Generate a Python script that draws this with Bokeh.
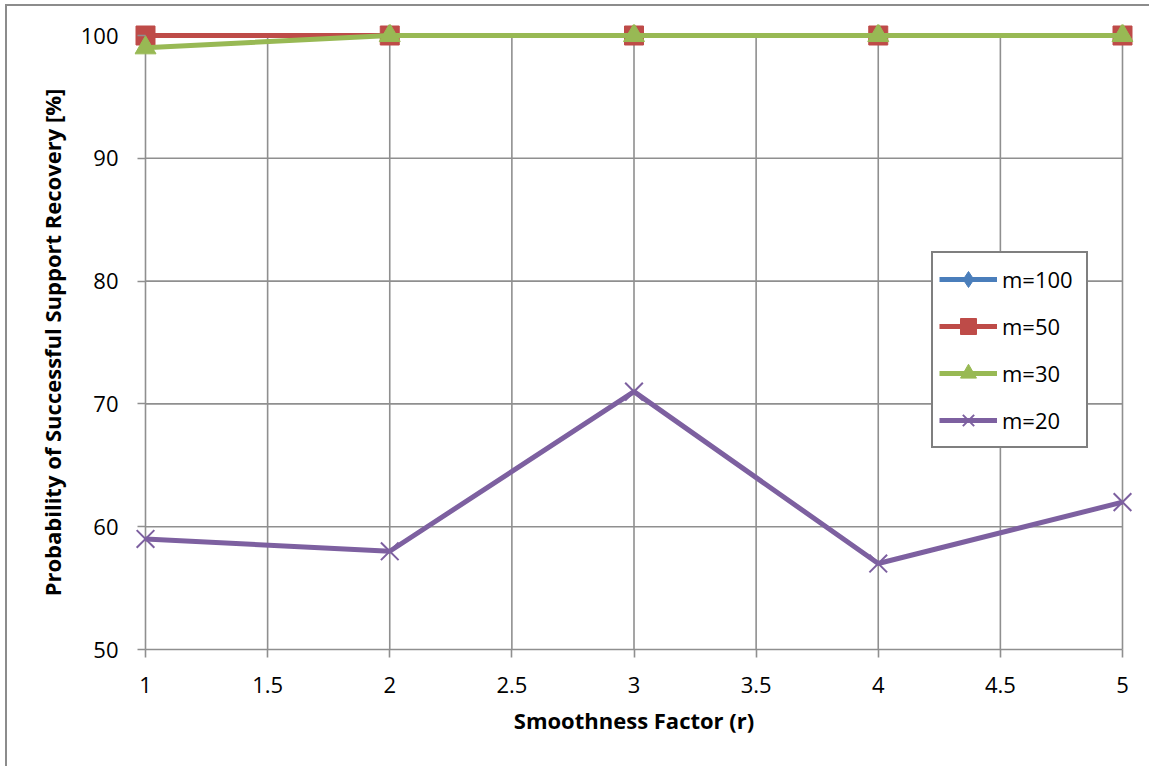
from bokeh.plotting import figure
from bokeh.models import Range1d, FixedTicker, Legend
from bokeh.embed import file_html
from bokeh.resources import INLINE

# data
r_values = [1, 2, 3, 4, 5]
m100 = [100, 100, 100, 100, 100]
m50 = [100, 100, 100, 100, 100]
m30 = [99, 100, 100, 100, 100]
m20 = [59, 58, 71, 57, 62]
x_ticks = [1, 1.5, 2, 2.5, 3, 3.5, 4, 4.5, 5]
y_ticks = [50, 60, 70, 80, 90, 100]

FONT = "Open Sans"
GRID = "#8f8f8f"

# layout (pixels)
PLOT_W, PLOT_H = 977, 614      # size of the data area 1..5 x 50..100
PAD = 11                       # room so edge markers are not clipped
x_lo, x_hi = min(x_ticks), max(x_ticks)
y_lo, y_hi = min(y_ticks), max(y_ticks)
dx = PAD * (x_hi - x_lo) / PLOT_W
dy = PAD * (y_hi - y_lo) / PLOT_H
FRAME_W, FRAME_H = PLOT_W + 2 * PAD, PLOT_H + 2 * PAD
W, H = 1144, 762
BL, BT = 127, 18

p = figure(width=W, height=H, output_backend="svg", toolbar_location=None,
           x_range=Range1d(x_lo - dx, x_hi + dx), y_range=Range1d(y_lo - dy, y_hi + dy),
           min_border_left=BL, min_border_top=BT,
           min_border_right=W - BL - FRAME_W, min_border_bottom=H - BT - FRAME_H,
           x_axis_label="Smoothness Factor (r)",
           y_axis_label="Probability of Successful Support Recovery [%]")
p.styles = {"margin-left": "5px", "margin-top": "4px",
            "border-top": "2px solid #8c8c8c", "border-left": "2px solid #8c8c8c"}
p.outline_line_color = None
p.background_fill_color = "white"
p.border_fill_color = "white"
p.xgrid.visible = False
p.ygrid.visible = False

p.xaxis.ticker = FixedTicker(ticks=x_ticks)
p.yaxis.ticker = FixedTicker(ticks=y_ticks)
for ax in (p.xaxis[0], p.yaxis[0]):
    ax.axis_line_color = None
    ax.major_tick_line_color = GRID
    ax.major_tick_line_width = 1.6
    ax.major_tick_in = PAD
    ax.major_tick_out = 8 - PAD
    ax.minor_tick_line_color = None
    ax.major_label_text_font = FONT
    ax.major_label_text_font_size = "22px"
    ax.major_label_text_color = "black"
    ax.axis_label_text_font = FONT
    ax.axis_label_text_font_size = "22px"
    ax.axis_label_text_font_style = "bold"
    ax.axis_label_text_color = "black"
p.yaxis.major_label_standoff = 16
p.yaxis.axis_label_standoff = 11
p.xaxis.major_label_standoff = 16
p.xaxis.axis_label_standoff = 9

# gridlines spanning exactly the data area
p.segment(x0=x_ticks, y0=[y_lo] * len(x_ticks), x1=x_ticks, y1=[y_hi] * len(x_ticks),
          line_color=GRID, line_width=1.6)
p.segment(x0=[x_lo] * len(y_ticks), y0=y_ticks, x1=[x_hi] * len(y_ticks), y1=y_ticks,
          line_color=GRID, line_width=1.6)

blue, red, green, purple = "#4A7EBB", "#BE4B48", "#98B954", "#7D60A0"
LW = 5

l1 = p.line(r_values, m100, line_color=blue, line_width=LW)
s1 = p.scatter(r_values, m100, marker="diamond", size=18, fill_color=blue, line_color=blue)
l2 = p.line(r_values, m50, line_color=red, line_width=LW)
s2 = p.scatter(r_values, m50, marker="square", size=19, fill_color=red, line_color=red)
l3 = p.line(r_values, m30, line_color=green, line_width=LW)
s3 = p.scatter(r_values, m30, marker="triangle", size=21, fill_color=green, line_color=green)
l4 = p.line(r_values, m20, line_color=purple, line_width=LW)
s4 = p.scatter(r_values, m20, marker="x", size=25, line_color=purple, line_width=2)

legend = Legend(items=[("m=100", [l1, s1]), ("m=50", [l2, s2]),
                       ("m=30", [l3, s3]), ("m=20", [l4, s4])],
                location=(797, 212))
legend.border_line_color = "black"
legend.border_line_width = 2
legend.background_fill_color = "white"
legend.background_fill_alpha = 1
legend.label_text_font = FONT
legend.label_text_font_size = "22px"
legend.label_text_color = "black"
legend.glyph_width = 58
legend.glyph_height = 40
legend.label_height = 30
legend.label_width = 78
legend.label_standoff = 5
legend.spacing = 7
legend.padding = 6
legend.margin = 0
p.add_layout(legend)

open("out.html", "w").write(file_html(p, INLINE))
